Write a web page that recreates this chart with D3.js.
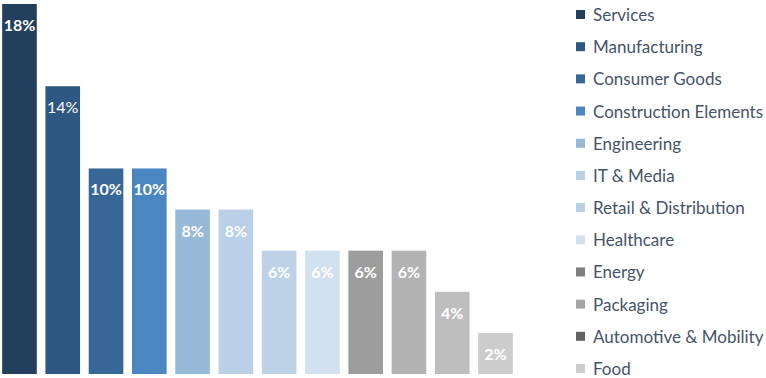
<!DOCTYPE html>
<html lang="en">
<head>
  <meta charset="UTF-8">
  <title>Sectors</title>
  <script src="https://d3js.org/d3.v7.min.js"></script>
  <style>
    body { margin: 0; background: #fff; }
    .label { fill: #fff; font-family: Lato, sans-serif; font-size: 16px; font-weight: bold; text-anchor: middle; }
    .legend text { fill: #44546a; font-family: Lato, sans-serif; font-size: 17px; }
  </style>
</head>
<body>
  <script>
    // data
    const sectors = ['Services', 'Manufacturing', 'Consumer Goods', 'Construction Elements',
      'Engineering', 'IT & Media', 'Retail & Distribution', 'Healthcare',
      'Energy', 'Packaging', 'Automotive & Mobility', 'Food'];
    const shares = [18, 14, 10, 10, 8, 8, 6, 6, 6, 6, 4, 2];
    const barColors = ['#233f5e', '#2e5881', '#376797', '#4a87c1', '#98bad9', '#bad0e6',
      '#bdd2e7', '#d2e1f0', '#9d9d9d', '#b3b3b3', '#bebebe', '#cccccc'];
    const legendColors = ['#233f5e', '#2e5881', '#376797', '#4a87c1', '#98bad9', '#bad0e6',
      '#bad0e6', '#d2e1f0', '#7f7f7f', '#a6a6a6', '#636363', '#cccccc'];

    const width = 766, height = 378;

    const svg = d3.select('body').append('svg')
      .attr('width', width)
      .attr('height', height);

    const x = d3.scaleBand().domain(sectors).range([0, 515])
      .paddingInner(0.2).paddingOuter(0.05);
    const y = d3.scaleLinear().domain([0, 18]).range([374, 4]);

    // bars
    svg.selectAll('.bar')
      .data(sectors)
      .enter().append('rect')
      .attr('class', 'bar')
      .attr('x', d => x(d))
      .attr('y', (d, i) => y(shares[i]))
      .attr('width', x.bandwidth())
      .attr('height', (d, i) => y(0) - y(shares[i]))
      .attr('fill', (d, i) => barColors[i]);

    // value labels
    svg.selectAll('.label')
      .data(sectors)
      .enter().append('text')
      .attr('class', 'label')
      .attr('x', d => x(d) + x.bandwidth() / 2)
      .attr('y', (d, i) => y(shares[i]) + 27)
      .style('font-weight', (d, i) => i === 1 ? 'normal' : 'bold')
      .text((d, i) => shares[i] + '%');

    // legend
    const ly = d3.scalePoint().domain(sectors).range([15, 369]);
    const legend = svg.append('g').attr('class', 'legend');
    const item = legend.selectAll('g')
      .data(sectors)
      .enter().append('g')
      .attr('transform', d => `translate(576,${ly(d)})`);
    item.append('rect')
      .attr('x', 0).attr('y', -5)
      .attr('width', 9).attr('height', 9)
      .attr('fill', (d, i) => legendColors[i]);
    item.append('text')
      .attr('x', 17).attr('y', 6)
      .text(d => d);
  </script>
</body>
</html>
